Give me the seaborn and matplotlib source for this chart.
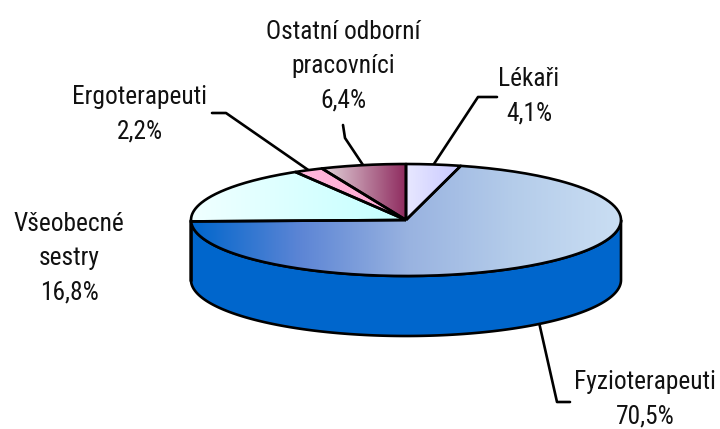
import numpy as np
import seaborn as sns
import matplotlib.pyplot as plt
from matplotlib.patches import PathPatch, Polygon
from matplotlib.path import Path

# clockwise from 12 o'clock
names = ['Lékaři', 'Fyzioterapeuti', 'Všeobecné\nsestry', 'Ergoterapeuti', 'Ostatní odborní\npracovníci']
shares = [4.1, 70.5, 16.8, 2.2, 6.4]
gradients = [['#E8E8FF', '#C8C8FF'],
             ['#0066CC', '#5C85D5', '#98B2E0', '#B4CCEA', '#CADEF3'],
             ['#F0FFFF', '#C4FFFF'],
             ['#FFB8DC', '#FFA8D4'],
             ['#E4D6DC', '#8E2A5E']]
side_color = '#0066CC'

sns.set_theme(style='white')
plt.rcParams['font.family'] = ['Roboto Condensed', 'Liberation Sans', 'DejaVu Sans']

# pie geometry in pixels
cx, cy, rx, ry, depth = 406, 220, 215, 56, 60
lw = 1.9

fig = plt.figure(figsize=(7.2, 4.29), dpi=100)
ax = fig.add_axes([0, 0, 1, 1])


def rim(a0, a1, dy=0):
    t = np.radians(np.linspace(a0, a1, 200))
    return np.column_stack([cx + rx * np.cos(t), cy - ry * np.sin(t) + dy])


# slice angles, going clockwise from 90 degrees
ends = 90 - np.cumsum(shares) * 3.6
starts = np.r_[90, ends[:-1]]

# side wall, only the front part of the rim shows
for a0, a1 in zip(starts, ends):
    lo, hi = max(a1, -180), min(a0, 0)
    if hi <= lo:
        continue
    wall = np.vstack([rim(hi, lo), rim(lo, hi, depth)])
    ax.add_patch(Polygon(wall, closed=True, fc=side_color, ec='black', lw=lw, joinstyle='round', zorder=2))

# top faces with a horizontal gradient
for a0, a1, stops in zip(starts, ends, gradients):
    pts = np.vstack([[cx, cy], rim(a0, a1), [cx, cy]])
    patch = PathPatch(Path(pts), fc='none', ec='black', lw=lw, joinstyle='round', zorder=4)
    ax.add_patch(patch)
    ramp = np.array(sns.blend_palette(stops, 128))[None, :, :]
    x0, x1 = pts[:, 0].min(), pts[:, 0].max()
    im = ax.imshow(ramp, extent=(x0, x1, pts[:, 1].max(), pts[:, 1].min()), aspect='auto',
                   interpolation='bilinear', zorder=3)
    im.set_clip_path(patch)
ax.set_xlim(0, 720)
ax.set_ylim(429, 0)
ax.axis('off')

# labels: centre of text block, then leader elbows
label_pos = [(529, 96), (645, 399), (69, 258), (140, 114), (343, 66)]
leaders = [[(478, 97), (497, 97)], [(557, 402), (570, 402)], None,
           [(226, 113), (212, 113)], [(345, 138), (343, 125)]]

for name, v, a0, a1, (tx, ty), bend in zip(names, shares, starts, ends, label_pos, leaders):
    ax.text(tx, ty, f"{name}\n{v:.1f}%".replace('.', ','), ha='center', va='center',
            fontsize=18.3, color='#111111', linespacing=1.55, zorder=6)
    if bend is None:
        continue
    mid = np.radians((a0 + a1) / 2)
    sx = cx + rx * np.cos(mid)
    sy = cy - ry * np.sin(mid) + (depth if np.sin(mid) < 0 else 0)
    line = np.array([(sx, sy)] + bend)
    ax.plot(line[:, 0], line[:, 1], color='black', lw=lw, zorder=1, solid_joinstyle='round')

fig.savefig('out.png', dpi=100)
